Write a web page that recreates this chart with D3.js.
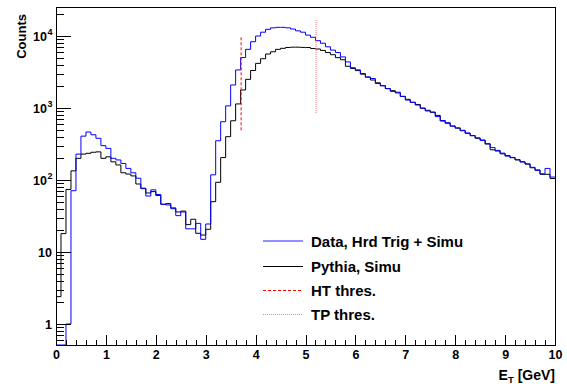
<!DOCTYPE html>
<html>
<head>
<meta charset="utf-8">
<script src="https://cdn.jsdelivr.net/npm/d3@7"></script>
<style>
  html, body { margin: 0; padding: 0; background: #fff; }
  text { font-family: "Liberation Sans", Arial, Helvetica, sans-serif; font-weight: bold; fill: #000; }
</style>
</head>
<body>
<svg id="chart" width="567" height="384"></svg>
<script>
// ---- data ----
const binWidth = 0.1;
const binLow = d3.range(100).map(i => +(i * binWidth).toFixed(1));

const dataHrdTrig = [
  0, 0, 1, 71, 229, 407, 464, 425, 380, 300,
  275, 200, 190, 170, 145, 126, 106, 77, 60, 73,
  63, 46, 45, 40, 32, 36, 21, 21, 25, 15,
  24.5, 118, 351, 645, 1070, 2090, 3380, 5020, 6530, 8330,
  10000, 11300, 12400, 13000, 13200, 13200, 13000, 12500, 11800, 11300,
  10300, 9600, 8610, 7940, 7080, 6380, 5890, 5130, 4370, 3630,
  3390, 3020, 2690, 2570, 2190, 2040, 1860, 1700, 1660, 1450,
  1290, 1200, 1100, 1000, 910, 880, 760, 670, 625, 560,
  530, 490, 450, 415, 385, 355, 320, 282, 258, 236,
  215, 206, 192, 178, 168, 150, 136, 122, 145, 110
];

const pythiaSimu = [
  2.4, 18, 74, 134, 200, 229, 235, 243, 246, 200,
  210, 179, 162, 126, 121, 114, 88, 76, 66, 69,
  61, 46, 47, 41, 36, 37, 24, 28.5, 18.2, 17.2,
  20.7, 50, 93, 205, 400, 665, 1140, 1780, 2500, 3320,
  4170, 4840, 5620, 6040, 6530, 6750, 6930, 7000, 7000, 6950,
  6930, 6700, 6600, 6310, 5890, 5500, 5010, 4680, 3800, 3550,
  3310, 2950, 2690, 2450, 2240, 2040, 1860, 1740, 1620, 1450,
  1320, 1200, 1120, 990, 930, 870, 790, 660, 614, 562,
  525, 484, 445, 412, 380, 359, 316, 263, 253, 231,
  218, 204, 190, 179, 166, 148, 138, 120, 120, 105
];

// threshold markers: [E position, y low, y high]
const htThres = [3.71, 490, 9800];
const tpThres = [5.21, 850, 17200];

const xTickLabels = ["0","1","2","3","4","5","6","7","8","9","10"];
const yDecades = [1, 10, 100, 1000, 10000];
const yDecadeLabels = [["1",""], ["10",""], ["10","2"], ["10","3"], ["10","4"]];

const legendLabels = ["Data, Hrd Trig + Simu", "Pythia, Simu", "HT thres.", "TP thres."];

// ---- layout ----
const svg = d3.select("#chart");
const L = 56, R = 555, T = 7, B = 345;

const x = d3.scaleLinear().domain([0, 10]).range([L, R]);
const y = d3.scaleLog().domain([0.511, 25300]).range([B, T]);
const yMin = y.domain()[0];

svg.append("rect").attr("x", 0).attr("y", 0).attr("width", 567).attr("height", 384).attr("fill", "#fff");

svg.append("defs").append("clipPath").attr("id", "clip")
  .append("rect").attr("x", L).attr("y", T).attr("width", R - L).attr("height", B - T);

// ---- histograms ----
function histPoints(vals) {
  const pts = [{e: binLow[0], v: yMin}];
  vals.forEach((v, i) => {
    const vv = v > yMin ? v : yMin;
    pts.push({e: binLow[i], v: vv});
    pts.push({e: binLow[i] + binWidth, v: vv});
  });
  return pts;
}
const line = d3.line().x(d => x(d.e)).y(d => y(d.v));

const g = svg.append("g").attr("clip-path", "url(#clip)");
g.append("path").datum(histPoints(pythiaSimu))
  .attr("d", line).attr("fill", "none").style("stroke", "#000").attr("stroke-width", 1);
g.append("path").datum(histPoints(dataHrdTrig))
  .attr("d", line).attr("fill", "none").style("stroke", "#0000ff").attr("stroke-width", 1);

// threshold lines
g.append("line")
  .attr("x1", x(htThres[0])).attr("x2", x(htThres[0]))
  .attr("y1", y(htThres[1])).attr("y2", y(htThres[2]))
  .style("stroke", "#ff0000").attr("stroke-width", 1).attr("stroke-dasharray", "3,2");
g.append("line")
  .attr("x1", x(tpThres[0])).attr("x2", x(tpThres[0]))
  .attr("y1", y(tpThres[1])).attr("y2", y(tpThres[2]))
  .style("stroke", "#ff4444").attr("stroke-width", 1).attr("stroke-dasharray", "1,1").attr("opacity", 0.75);

// ---- frame ----
svg.append("rect").attr("x", L).attr("y", T).attr("width", R - L).attr("height", B - T)
  .attr("fill", "none").style("stroke", "#000").attr("stroke-width", 1).attr("shape-rendering", "crispEdges");

// ---- x axis ----
const xAxis = d3.axisBottom(x).tickValues(d3.range(0, 11, 1)).tickSize(-10)
  .tickFormat((d, i) => xTickLabels[i]);
const xAx = svg.append("g").attr("transform", `translate(0,${B})`).call(xAxis);
xAx.select(".domain").remove();
xAx.selectAll("line").attr("stroke", "#000").attr("shape-rendering", "crispEdges");
xAx.selectAll("text").attr("font-size", "12.5px").attr("font-weight", "bold")
  .attr("font-family", "Liberation Sans, Arial, sans-serif").attr("fill", "#000").attr("dy", "0").attr("y", 14);

const xMinor = d3.axisBottom(x).tickValues(d3.range(0, 10.01, 0.2).filter(v => Math.abs(v - Math.round(v)) > 1e-6))
  .tickSize(-5).tickFormat("");
const xMi = svg.append("g").attr("transform", `translate(0,${B})`).call(xMinor);
xMi.select(".domain").remove();
xMi.selectAll("line").attr("stroke", "#000").attr("shape-rendering", "crispEdges");

// x title
const xt = svg.append("text").attr("x", R).attr("y", 380).attr("text-anchor", "end").attr("font-size", "14px");
xt.append("tspan").text("E");
xt.append("tspan").attr("font-size", "9.5px").attr("dy", 3).text("T");
xt.append("tspan").attr("dy", -3).text(" [GeV]");

// ---- y axis ----
const yMajor = d3.axisLeft(y).tickValues(yDecades).tickSize(-15).tickFormat("");
const yMa = svg.append("g").attr("transform", `translate(${L},0)`).call(yMajor);
yMa.select(".domain").remove();
yMa.selectAll("line").attr("stroke", "#000").attr("shape-rendering", "crispEdges");

const minorVals = [];
[-1, 0, 1, 2, 3, 4].forEach(k => {
  for (let m = 2; m <= 9; m++) {
    const v = m * Math.pow(10, k);
    if (v > y.domain()[0] && v < y.domain()[1]) minorVals.push(v);
  }
});
const yMinor = d3.axisLeft(y).tickValues(minorVals).tickSize(-8).tickFormat("");
const yMi = svg.append("g").attr("transform", `translate(${L},0)`).call(yMinor);
yMi.select(".domain").remove();
yMi.selectAll("line").attr("stroke", "#000").attr("shape-rendering", "crispEdges");

yDecades.forEach((v, i) => {
  const [base, sup] = yDecadeLabels[i];
  svg.append("text").attr("x", sup ? 47 : 52).attr("y", y(v) + 4.5)
    .attr("text-anchor", "end").attr("font-size", "12.5px").text(base);
  if (sup) {
    svg.append("text").attr("x", 47.5).attr("y", y(v) - 1).attr("font-size", "9px").text(sup);
  }
});

svg.append("text").attr("transform", "translate(26,14) rotate(-90)")
  .attr("text-anchor", "end").attr("font-size", "13px").text("Counts");

// ---- legend ----
const legendStyles = [
  {stroke: "#2020ff", dash: null, op: 1, dy: 0},
  {stroke: "#000000", dash: null, op: 1, dy: 0},
  {stroke: "#ff0000", dash: "3,2", op: 1, dy: 0},
  {stroke: "#ff5555", dash: "1,1", op: 0.8, dy: 0.5}
];
const legendY = [241, 266.5, 290.5, 314];
legendLabels.forEach((lab, i) => {
  const s = legendStyles[i];
  const ln = svg.append("line").attr("x1", 263).attr("x2", 303)
    .attr("y1", legendY[i] + s.dy).attr("y2", legendY[i] + s.dy)
    .style("stroke", s.stroke).attr("stroke-width", 1).attr("opacity", s.op);
  if (s.dash) ln.attr("stroke-dasharray", s.dash);
  svg.append("text").attr("x", 311).attr("y", legendY[i] + 5.5)
    .attr("font-size", "15px").text(lab);
});
</script>
</body>
</html>
